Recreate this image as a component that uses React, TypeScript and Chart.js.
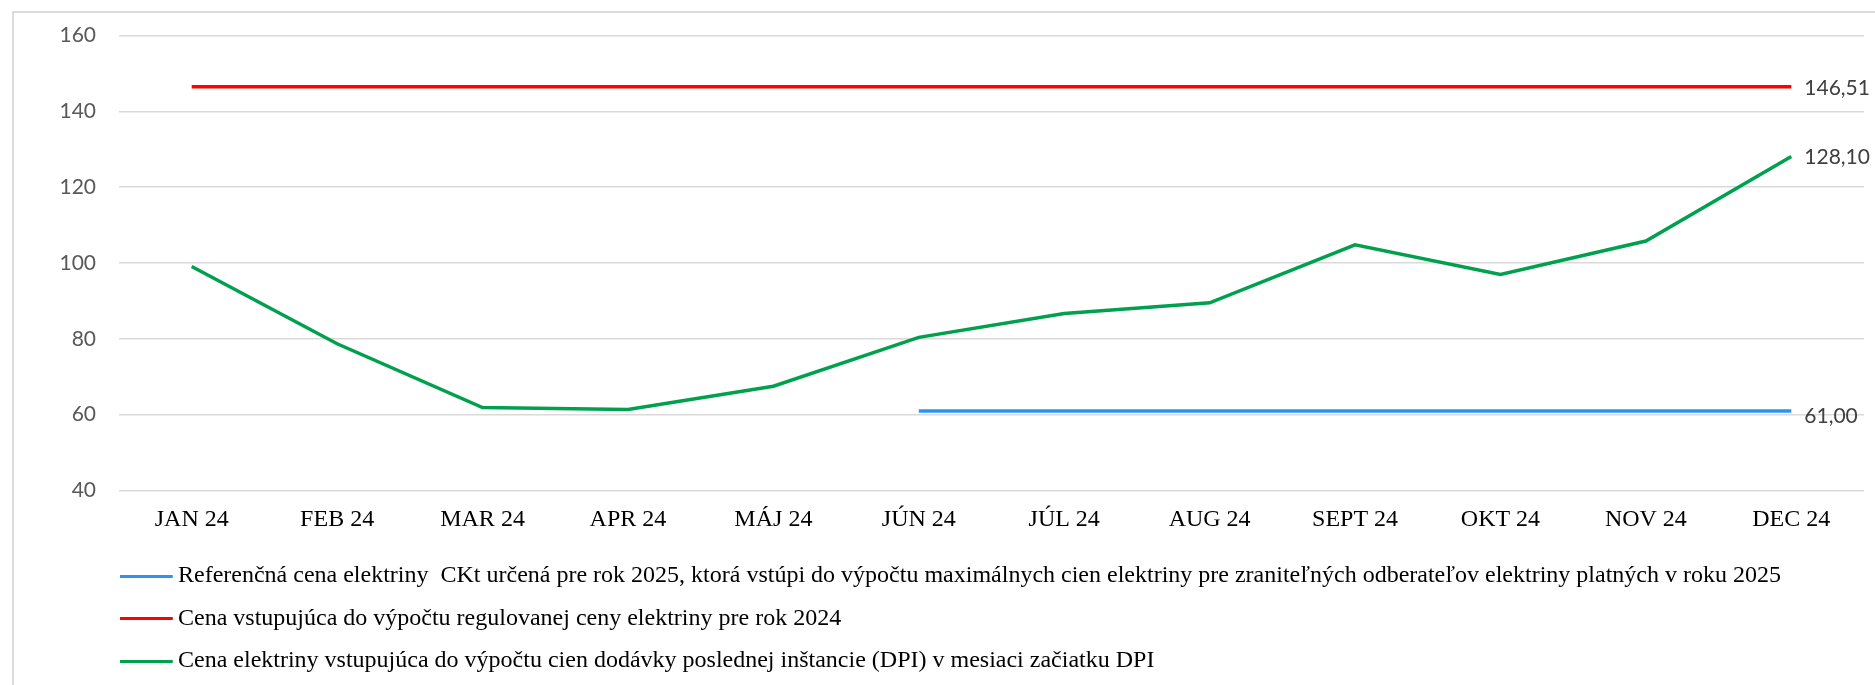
import React, { useEffect, useRef } from "react";
import { Chart, registerables } from "chart.js";

Chart.register(...registerables);

const categories = ["JAN 24", "FEB 24", "MAR 24", "APR 24", "MÁJ 24", "JÚN 24", "JÚL 24", "AUG 24", "SEPT 24", "OKT 24", "NOV 24", "DEC 24"];

const seriesNames = [
  "Referenčná cena elektriny  CKt určená pre rok 2025, ktorá vstúpi do výpočtu maximálnych cien elektriny pre zraniteľných odberateľov elektriny platných v roku 2025",
  "Cena vstupujúca do výpočtu regulovanej ceny elektriny pre rok 2024",
  "Cena elektriny vstupujúca do výpočtu cien dodávky poslednej inštancie (DPI) v mesiaci začiatku DPI",
];

const referencePrice = [null, null, null, null, null, 61.0, 61.0, 61.0, 61.0, 61.0, 61.0, 61.0];
const regulatedPrice = [146.51, 146.51, 146.51, 146.51, 146.51, 146.51, 146.51, 146.51, 146.51, 146.51, 146.51, 146.51];
const dpiPrice = [99.1, 78.7, 61.9, 61.4, 67.5, 80.4, 86.7, 89.5, 104.8, 97.0, 105.8, 128.1];

const yMin = 40;
const yMax = 160;
const yStep = 20;

const colors = ["#2E93EE", "#FF0000", "#00A04F"];
const endLabelDy = [5, 1, 1];

function makeMarker(color: string): HTMLCanvasElement {
  const c = document.createElement("canvas");
  c.width = 64;
  c.height = 3;
  const ctx = c.getContext("2d")!;
  ctx.fillStyle = color;
  ctx.fillRect(0, 0, 53, 3);
  return c;
}

const endLabelsPlugin = {
  id: "endLabels",
  afterDatasetsDraw(chart: any) {
    const ctx = chart.ctx;
    ctx.save();
    ctx.font = "21px Lato";
    ctx.fillStyle = "#404040";
    ctx.textAlign = "left";
    ctx.textBaseline = "middle";
    chart.data.datasets.forEach((ds: any, i: number) => {
      const meta = chart.getDatasetMeta(i);
      const last = ds.data.length - 1;
      const v = ds.data[last];
      const pt = meta.data[last];
      if (v == null || !pt) return;
      const txt = Number(v).toFixed(2).replace(".", ",");
      ctx.fillText(txt, pt.x + 13, pt.y + endLabelDy[i]);
    });
    ctx.restore();
  },
};

export default function App() {
  const ref = useRef<HTMLCanvasElement | null>(null);

  useEffect(() => {
    if (!ref.current) return;
    const markers = colors.map(makeMarker);
    const seriesData = [referencePrice, regulatedPrice, dpiPrice];
    const chart = new Chart(ref.current, {
      type: "line",
      data: {
        labels: categories,
        datasets: seriesData.map((d, i) => ({
          label: seriesNames[i],
          data: d,
          borderColor: colors[i],
          backgroundColor: colors[i],
          borderWidth: 3.5,
          pointRadius: 0,
          pointHoverRadius: 0,
          pointStyle: markers[i] as any,
          tension: 0,
          spanGaps: false,
          fill: false,
        })),
      },
      options: {
        responsive: false,
        animation: false,
        devicePixelRatio: 1,
        layout: { padding: { left: 0, right: 11, top: 35, bottom: 0 } },
        plugins: {
          tooltip: { enabled: false },
          legend: {
            position: "bottom",
            align: "start",
            fullSize: false,
            labels: {
              usePointStyle: true,
              pointStyleWidth: 28.5,
              padding: 18.5,
              color: "#000000",
              font: { family: "'Liberation Serif', 'Times New Roman', serif", size: 24 },
            },
          },
        },
        scales: {
          x: {
            type: "category",
            offset: true,
            grid: { display: false },
            border: { display: false },
            ticks: {
              color: "#000000",
              padding: 7,
              maxRotation: 0,
              autoSkip: false,
              font: { family: "'Liberation Serif', 'Times New Roman', serif", size: 24 },
            },
            afterFit: (s: any) => {
              s.height = 55;
            },
          },
          y: {
            min: yMin,
            max: yMax,
            ticks: {
              stepSize: yStep,
              color: "#595959",
              padding: 23,
              font: { family: "Lato, 'Open Sans', sans-serif", size: 21 },
            },
            grid: { color: "#d9d9d9", lineWidth: 1.5, drawTicks: false },
            border: { display: false },
            afterFit: (s: any) => {
              s.width = 119;
            },
          },
        },
      },
      plugins: [endLabelsPlugin],
    });
    return () => chart.destroy();
  }, []);

  return (
    <div style={{ position: "absolute", left: 0, top: 0, width: 1875, height: 685, overflow: "hidden", background: "#ffffff" }}>
      <div
        style={{
          position: "absolute",
          left: 12,
          top: 11,
          width: 1900,
          height: 720,
          borderLeft: "2px solid #dcdcdc",
          borderTop: "2px solid #dcdcdc",
          boxSizing: "border-box",
        }}
      />
      <canvas
        ref={ref}
        width={1875}
        height={683}
        style={{ position: "absolute", left: 0, top: 0, width: 1875, height: 683 }}
      />
    </div>
  );
}
